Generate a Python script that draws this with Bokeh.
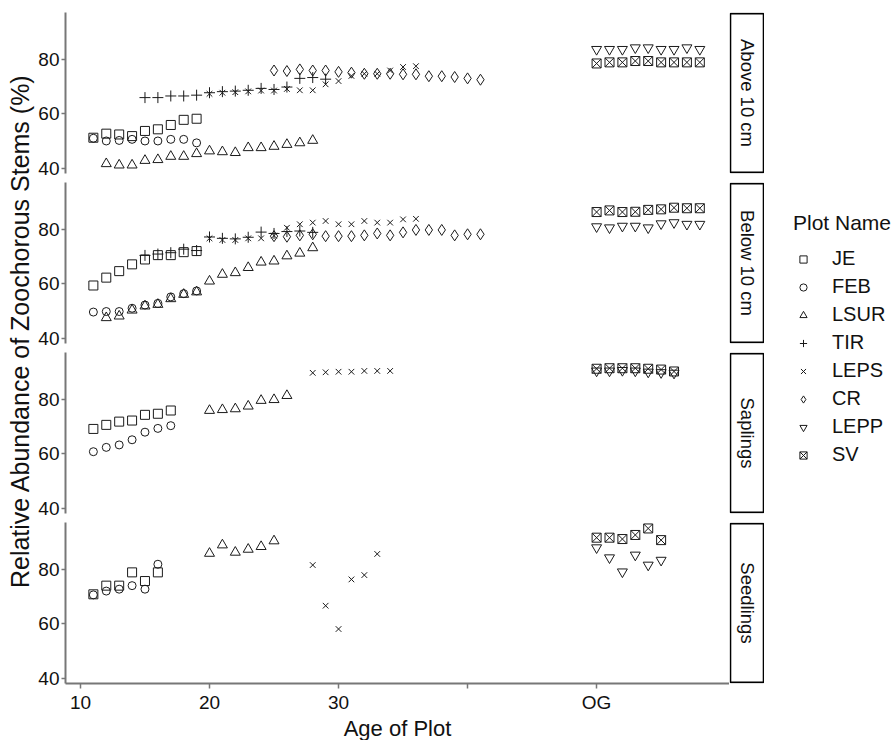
import math
from bokeh.plotting import figure
from bokeh.models import Range1d, FixedTicker, Legend, LegendItem, ColumnDataSource
from bokeh.layouts import row, column
from bokeh.embed import file_html
from bokeh.resources import INLINE
from bokeh.core.properties import value

FONT = "Liberation Sans"

PANELS = ["Above 10 cm", "Below 10 cm", "Saplings", "Seedlings"]
PLOT_NAMES = ["JE", "FEB", "LSUR", "TIR", "LEPS", "CR", "LEPP", "SV"]
X_TICKS = [10, 20, 30, 40, 50]
X_TICK_LABELS = ["10", "20", "30", "", "OG"]
Y_TICKS = [40, 60, 80]
Y_TITLE = "Relative Abundance of Zoochorous Stems (%)"
X_TITLE = "Age of Plot"
LEGEND_TITLE = "Plot Name"

above_JE_x = [11, 12, 13, 14, 15, 16, 17, 18, 19]
above_JE_y = [51.2, 52.7, 52.4, 51.8, 53.7, 54.3, 55.9, 57.8, 58.2]
above_FEB_x = [11, 12, 13, 14, 15, 16, 17, 18, 19]
above_FEB_y = [51.0, 50.0, 50.2, 50.6, 50.0, 50.0, 50.6, 50.6, 49.3]
above_LSUR_x = [12, 13, 14, 15, 16, 17, 18, 19, 20, 21, 22, 23, 24, 25, 26, 27, 28]
above_LSUR_y = [41.6, 41.1, 41.1, 42.8, 43.1, 44.3, 44.3, 45.3, 46.3, 46.0, 45.7, 47.5, 47.5, 48.0, 48.7, 49.3, 50.2]
above_TIR_x = [15, 16, 17, 18, 19, 20, 21, 22, 23, 24, 25, 26, 27, 28, 29]
above_TIR_y = [66.0, 66.0, 66.6, 66.6, 66.9, 67.8, 68.2, 68.4, 68.7, 69.4, 69.0, 69.9, 73.1, 73.4, 72.8]
above_LEPS_x = [20, 21, 22, 23, 24, 25, 26, 27, 28, 29, 30, 31, 32, 33, 34, 35, 36]
above_LEPS_y = [67.4, 67.8, 68.0, 68.3, 68.6, 68.6, 69.2, 68.7, 68.7, 70.9, 72.1, 74.0, 74.8, 74.8, 76.0, 77.3, 77.6]
above_CR_x = [25, 26, 27, 28, 29, 30, 31, 32, 33, 34, 35, 36, 37, 38, 39, 40, 41]
above_CR_y = [76.0, 75.8, 76.4, 76.0, 76.0, 75.5, 75.2, 74.8, 74.8, 74.8, 74.6, 74.6, 73.9, 73.9, 73.6, 73.1, 72.6]
above_LEPP_x = [50, 51, 52, 53, 54, 55, 56, 57, 58]
above_LEPP_y = [83.8, 83.8, 83.8, 84.4, 84.4, 83.8, 83.8, 84.4, 83.8]
above_SV_x = [50, 51, 52, 53, 54, 55, 56, 57, 58]
above_SV_y = [78.6, 79.0, 79.0, 79.5, 79.5, 79.0, 79.0, 79.0, 79.0]

below_JE_x = [11, 12, 13, 14, 15, 16, 17, 18, 19]
below_JE_y = [59.4, 62.3, 64.7, 67.2, 69.0, 70.6, 70.6, 71.7, 72.1]
below_FEB_x = [11, 12, 13, 14, 15, 16, 17, 18, 19]
below_FEB_y = [49.6, 49.8, 49.8, 51.0, 52.2, 52.8, 55.2, 56.4, 57.4]
below_LSUR_x = [12, 13, 14, 15, 16, 17, 18, 19, 20, 21, 22, 23, 24, 25, 26, 27, 28]
below_LSUR_y = [47.5, 48.1, 50.3, 51.8, 52.4, 54.5, 56.1, 57.0, 61.0, 63.5, 64.1, 66.0, 68.0, 68.4, 70.3, 71.3, 73.3]
below_TIR_x = [15, 16, 17, 18, 19, 20, 21, 22, 23, 24, 25, 26, 27, 28]
below_TIR_y = [70.5, 71.0, 71.5, 72.8, 72.3, 77.3, 76.8, 76.6, 77.2, 79.1, 78.6, 79.3, 79.5, 79.0]
below_LEPS_x = [20, 21, 22, 23, 24, 25, 26, 27, 28, 29, 30, 31, 32, 33, 34, 35, 36]
below_LEPS_y = [76.8, 76.2, 76.2, 76.8, 76.8, 77.8, 80.7, 82.0, 82.6, 83.2, 82.0, 82.0, 83.2, 82.6, 82.6, 83.8, 84.0]
below_CR_x = [25, 26, 27, 28, 29, 30, 31, 32, 33, 34, 35, 36, 37, 38, 39, 40, 41]
below_CR_y = [77.6, 77.4, 77.9, 78.3, 77.6, 77.6, 77.6, 77.9, 78.6, 77.9, 79.0, 79.9, 79.9, 79.9, 77.9, 78.3, 78.3]
below_LEPP_x = [50, 51, 52, 53, 54, 55, 56, 57, 58]
below_LEPP_y = [81.1, 80.7, 81.3, 81.3, 80.7, 82.2, 82.6, 82.0, 82.0]
below_SV_x = [50, 51, 52, 53, 54, 55, 56, 57, 58]
below_SV_y = [86.5, 87.1, 86.5, 86.6, 87.3, 87.5, 88.1, 87.9, 87.9]

sapl_JE_x = [11, 12, 13, 14, 15, 16, 17]
sapl_JE_y = [69.2, 70.7, 71.9, 72.3, 74.4, 74.8, 76.0]
sapl_FEB_x = [11, 12, 13, 14, 15, 16, 17]
sapl_FEB_y = [60.8, 62.4, 63.3, 65.2, 68.0, 69.4, 70.4]
sapl_LSUR_x = [20, 21, 22, 23, 24, 25, 26]
sapl_LSUR_y = [76.0, 76.3, 76.6, 77.6, 79.7, 80.0, 81.5]
sapl_LEPS_x = [28, 29, 30, 31, 32, 33, 34]
sapl_LEPS_y = [89.9, 90.1, 90.3, 90.3, 90.6, 90.6, 90.6]
sapl_LEPP_x = [50, 51, 52, 53, 54, 55, 56]
sapl_LEPP_y = [90.6, 90.6, 90.8, 90.6, 90.2, 90.0, 89.8]
sapl_SV_x = [50, 51, 52, 53, 54, 55, 56]
sapl_SV_y = [91.4, 91.6, 91.6, 91.6, 91.4, 91.1, 90.4]

seed_JE_x = [11, 12, 13, 14, 15, 16]
seed_JE_y = [70.9, 74.1, 74.1, 79.0, 75.8, 79.0]
seed_FEB_x = [11, 12, 13, 14, 15, 16]
seed_FEB_y = [70.7, 72.1, 72.8, 74.1, 72.8, 82.0]
seed_LSUR_x = [20, 21, 22, 23, 24, 25]
seed_LSUR_y = [86.0, 89.1, 86.4, 87.5, 88.5, 90.6]
seed_LEPS_x = [28, 29, 30, 31, 32, 33]
seed_LEPS_y = [81.7, 66.7, 58.1, 76.4, 78.0, 85.8]
seed_LEPP_x = [50, 51, 52, 53, 54, 55]
seed_LEPP_y = [88.1, 84.4, 79.2, 85.4, 81.7, 83.5]
seed_SV_x = [50, 51, 52, 53, 54, 55]
seed_SV_y = [91.8, 91.8, 91.3, 92.8, 95.2, 90.9]

PANEL_DATA = [
    {"JE": (above_JE_x, above_JE_y), "FEB": (above_FEB_x, above_FEB_y),
     "LSUR": (above_LSUR_x, above_LSUR_y), "TIR": (above_TIR_x, above_TIR_y),
     "LEPS": (above_LEPS_x, above_LEPS_y), "CR": (above_CR_x, above_CR_y),
     "LEPP": (above_LEPP_x, above_LEPP_y), "SV": (above_SV_x, above_SV_y)},
    {"JE": (below_JE_x, below_JE_y), "FEB": (below_FEB_x, below_FEB_y),
     "LSUR": (below_LSUR_x, below_LSUR_y), "TIR": (below_TIR_x, below_TIR_y),
     "LEPS": (below_LEPS_x, below_LEPS_y), "CR": (below_CR_x, below_CR_y),
     "LEPP": (below_LEPP_x, below_LEPP_y), "SV": (below_SV_x, below_SV_y)},
    {"JE": (sapl_JE_x, sapl_JE_y), "FEB": (sapl_FEB_x, sapl_FEB_y),
     "LSUR": (sapl_LSUR_x, sapl_LSUR_y), "LEPS": (sapl_LEPS_x, sapl_LEPS_y),
     "LEPP": (sapl_LEPP_x, sapl_LEPP_y), "SV": (sapl_SV_x, sapl_SV_y)},
    {"JE": (seed_JE_x, seed_JE_y), "FEB": (seed_FEB_x, seed_FEB_y),
     "LSUR": (seed_LSUR_x, seed_LSUR_y), "LEPS": (seed_LEPS_x, seed_LEPS_y),
     "LEPP": (seed_LEPP_x, seed_LEPP_y), "SV": (seed_SV_x, seed_SV_y)},
]

MARKERS = {"JE": "square", "FEB": "circle", "LSUR": "triangle", "TIR": "cross",
           "LEPS": "x", "CR": "diamond", "LEPP": "inverted_triangle", "SV": "square_x"}
SIZES = {"JE": 9, "FEB": 8, "LSUR": 10, "TIR": 11, "LEPS": 8, "CR": 11, "LEPP": 10, "SV": 9}

MARK_COLOR = "#1a1a1a"
AXIS_COLOR = "#777777"
TEXT_COLOR = "#111111"

FRAME_W = 664
FRAME_H = 161
TOP_B = 12
PANEL_TOP_B = 4
MID_B = 5
BOT_B = 52
LEFT_W = 35
PANEL_LEFT_B = 28
X_RANGE = (8.84, 60.3)
Y_RANGE = (38.0, 97.4)


def make_panel(i):
    last = i == len(PANELS) - 1
    p = figure(frame_width=FRAME_W, frame_height=FRAME_H,
               x_range=Range1d(*X_RANGE), y_range=Range1d(*Y_RANGE),
               x_axis_location="below" if last else None,
               output_backend="svg", toolbar_location=None,
               min_border_left=PANEL_LEFT_B, min_border_right=0,
               min_border_top=TOP_B if i == 0 else PANEL_TOP_B,
               min_border_bottom=BOT_B if last else MID_B)
    p.outline_line_color = None
    p.grid.visible = False
    p.yaxis.ticker = FixedTicker(ticks=Y_TICKS)
    p.yaxis.minor_tick_line_color = None
    p.yaxis.major_tick_in = 0
    p.yaxis.major_tick_out = 4
    p.yaxis.major_label_standoff = 2
    p.yaxis.axis_line_color = AXIS_COLOR
    p.yaxis.axis_line_width = 2
    p.yaxis.major_tick_line_color = AXIS_COLOR
    p.yaxis.major_tick_line_width = 1.5
    p.yaxis.major_label_text_font = FONT
    p.yaxis.major_label_text_font_size = "19px"
    p.yaxis.major_label_text_color = TEXT_COLOR
    if last:
        p.xaxis.ticker = FixedTicker(ticks=X_TICKS)
        p.xaxis.major_label_overrides = {t: l for t, l in zip(X_TICKS, X_TICK_LABELS)}
        p.xaxis.minor_tick_line_color = None
        p.xaxis.major_tick_in = 0
        p.xaxis.major_tick_out = 5
        p.xaxis.major_label_standoff = 3
        p.xaxis.axis_line_color = AXIS_COLOR
        p.xaxis.axis_line_width = 2
        p.xaxis.major_tick_line_color = AXIS_COLOR
        p.xaxis.major_tick_line_width = 1.5
        p.xaxis.major_label_text_font = FONT
        p.xaxis.major_label_text_font_size = "19px"
        p.xaxis.major_label_text_color = TEXT_COLOR
        p.xaxis.axis_label = X_TITLE
        p.xaxis.axis_label_standoff = 0
        p.xaxis.axis_label_text_font = FONT
        p.xaxis.axis_label_text_font_size = "22px"
        p.xaxis.axis_label_text_font_style = "normal"
        p.xaxis.axis_label_text_color = TEXT_COLOR
    for name in PLOT_NAMES:
        if name not in PANEL_DATA[i]:
            continue
        xs, ys = PANEL_DATA[i][name]
        src = ColumnDataSource(data=dict(x=xs, y=ys))
        p.scatter("x", "y", source=src, marker=MARKERS[name], size=SIZES[name],
                  line_color=MARK_COLOR, line_width=1, fill_color=None)
    return p


def make_strip(i):
    last = i == len(PANELS) - 1
    s = figure(frame_width=35, frame_height=FRAME_H,
               x_range=Range1d(-0.03, 1.03), y_range=Range1d(-0.007, 1.007),
               x_axis_location=None, y_axis_location=None,
               output_backend="svg", toolbar_location=None,
               min_border_left=0, min_border_right=0,
               min_border_top=TOP_B if i == 0 else PANEL_TOP_B,
               min_border_bottom=BOT_B if last else MID_B)
    s.outline_line_color = None
    s.grid.visible = False
    s.quad(left=[0], right=[1], bottom=[0], top=[1], fill_color="white",
           line_color="black", line_width=1.6)
    s.text(x=[0.5], y=[0.5], text=[PANELS[i]], angle=-math.pi / 2,
           text_align="center", text_baseline="middle",
           text_font=value(FONT), text_font_size="18.5px", text_color=TEXT_COLOR)
    return s


total_frames_h = FRAME_H * 4 + MID_B * 3 + PANEL_TOP_B * 3
total_h = TOP_B + total_frames_h + BOT_B

# y-axis title column (canvas measured in pixels from the top)
ytitle = figure(width=LEFT_W, height=total_h,
                x_range=Range1d(0, LEFT_W), y_range=Range1d(total_h, 0),
                x_axis_location=None, y_axis_location=None,
                output_backend="svg", toolbar_location=None,
                min_border_left=0, min_border_right=0, min_border_top=0,
                min_border_bottom=0)
ytitle.outline_line_color = None
ytitle.grid.visible = False
ytitle.text(x=[19], y=[TOP_B + total_frames_h / 2 - 17], text=[Y_TITLE],
            angle=math.pi / 2, text_align="center", text_baseline="middle",
            text_font=value(FONT), text_font_size="25px", text_color=TEXT_COLOR)

LEG_TOP = 182
lg = figure(width=129, height=total_h,
            x_range=Range1d(0, 1), y_range=Range1d(0, 1),
            x_axis_location=None, y_axis_location=None,
            output_backend="svg", toolbar_location=None,
            min_border_left=0, min_border_right=0, min_border_top=LEG_TOP,
            min_border_bottom=0)
lg.outline_line_color = None
lg.grid.visible = False
items = []
for name in PLOT_NAMES:
    proxy = ColumnDataSource(data=dict(x=[float("nan")], y=[float("nan")]))
    r = lg.scatter(x="x", y="y", source=proxy,
                   marker=MARKERS[name], size=SIZES[name],
                   line_color=MARK_COLOR, line_width=1, fill_color=None)
    items.append(LegendItem(label=name, renderers=[r]))
leg = Legend(items=items, location="top_left", title=LEGEND_TITLE)
leg.title_text_font = FONT
leg.title_text_font_size = "21px"
leg.title_text_font_style = "normal"
leg.title_text_color = TEXT_COLOR
leg.title_standoff = 12
leg.label_text_font = FONT
leg.label_text_font_size = "20px"
leg.label_text_color = TEXT_COLOR
leg.glyph_width = 20
leg.glyph_height = 18
leg.label_height = 18
leg.label_standoff = 19
leg.spacing = 5
leg.padding = 0
leg.margin = 29
leg.border_line_color = None
leg.background_fill_alpha = 0
lg.add_layout(leg)

panel_rows = [row(make_panel(i), make_strip(i)) for i in range(len(PANELS))]
layout = row(column(ytitle), column(*panel_rows), column(lg))

open("out.html", "w").write(file_html(layout, INLINE))
